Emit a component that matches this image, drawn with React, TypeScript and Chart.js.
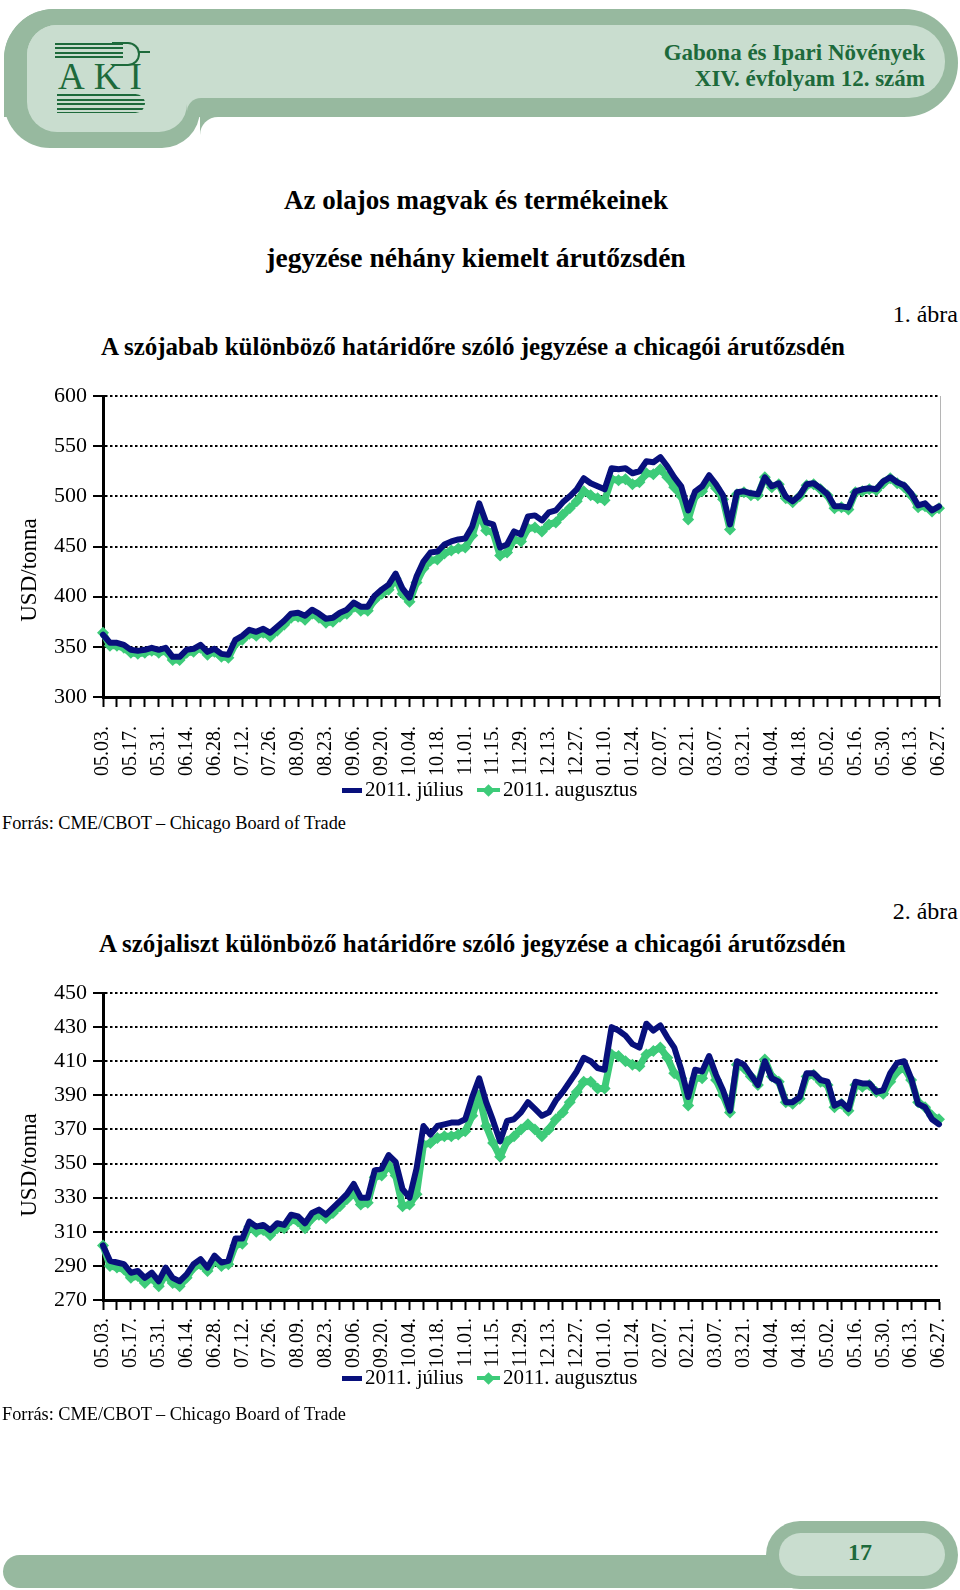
import React, { useEffect, useRef } from 'react';
import { Chart, registerables } from 'chart.js';

Chart.register(...registerables);

// ---------- DATA ----------
const tickLabels = [
  '05.03.', '05.17.', '05.31.', '06.14.', '06.28.', '07.12.', '07.26.', '08.09.', '08.23.', '09.06.',
  '09.20.', '10.04.', '10.18.', '11.01.', '11.15.', '11.29.', '12.13.', '12.27.', '01.10.', '01.24.',
  '02.07.', '02.21.', '03.07.', '03.21.', '04.04.', '04.18.', '05.02.', '05.16.', '05.30.', '06.13.',
  '06.27.',
];

const seriesNames = ['2011. július', '2011. augusztus'];

// Soybean (szójabab), USD/tonna, two readings per week
const soyJul = [
  362, 354, 354, 352, 347, 346, 347, 349, 347, 349,
  340, 340, 347, 348, 352, 345, 348, 343, 342, 357,
  361, 367, 365, 368, 364, 370, 376, 383, 384, 381,
  387, 383, 378, 379, 384, 387, 394, 390, 390, 401,
  407, 412, 423, 408, 399, 420, 435, 444, 445, 452,
  455, 457, 458, 470, 493, 474, 472, 449, 452, 465,
  462, 480, 481, 476, 484, 486, 494, 500, 507, 518,
  513, 510, 507, 528, 527, 528, 523, 525, 535, 534,
  539, 530, 519, 510, 486, 505, 510, 521, 512, 501,
  472, 504, 505, 503, 502, 519, 510, 513, 500, 495,
  501, 512, 513, 508, 502, 490, 490, 489, 505, 507,
  508, 507, 515, 519, 514, 511, 503, 491, 493, 486,
  490,
];
const soyAug = [
  364, 351, 351, 349, 344, 343, 344, 346, 344, 346,
  337, 337, 344, 345, 349, 342, 345, 340, 339, 353,
  357, 363, 361, 364, 360, 366, 372, 379, 380, 377,
  383, 379, 374, 375, 380, 383, 390, 386, 386, 397,
  403, 407, 418, 403, 395, 414, 428, 436, 437, 443,
  446, 448, 449, 461, 483, 466, 464, 441, 444, 457,
  455, 468, 469, 465, 472, 474, 482, 488, 495, 505,
  501, 498, 496, 517, 516, 517, 512, 514, 523, 522,
  527, 519, 509, 500, 477, 500, 505, 516, 508, 497,
  467, 502, 504, 501, 501, 519, 509, 512, 498, 494,
  500, 511, 512, 507, 501, 488, 489, 487, 504, 505,
  507, 506, 513, 518, 513, 509, 501, 489, 490, 485,
  488,
];

// Soybean meal (szójaliszt), USD/tonna
const mealJul = [
  302, 293, 292, 291, 286, 287, 283, 286, 281, 289,
  283, 281, 285, 291, 294, 289, 296, 292, 293, 306,
  306, 316, 313, 314, 311, 315, 314, 320, 319, 315,
  321, 323, 320, 324, 328, 332, 338, 330, 330, 346,
  347, 355, 351, 335, 330, 347, 372, 367, 372, 373,
  374, 374, 376, 389, 400, 386, 375, 363, 375, 376,
  380, 386, 382, 378, 380, 387, 392, 398, 404, 412,
  410, 406, 405, 430, 428, 425, 420, 418, 432, 428,
  431, 424, 418, 405, 389, 405, 404, 413, 402, 393,
  381, 410, 408, 402, 396, 410, 400, 398, 386, 386,
  389, 403, 403, 399, 398, 384, 386, 382, 398, 397,
  397, 392, 393, 403, 409, 410, 400, 385, 383, 376,
  373,
];
const mealAug = [
  302, 290, 289, 288, 283, 284, 280, 283, 278, 285,
  280, 278, 283, 289, 291, 287, 293, 290, 291, 302,
  303, 313, 310, 311, 308, 312, 312, 317, 316, 312,
  318, 320, 318, 321, 325, 329, 333, 326, 327, 342,
  343, 349, 343, 325, 326, 332, 361, 362, 365, 366,
  366, 367, 369, 378, 390, 372, 362, 354, 363, 366,
  370, 373, 370, 366, 370, 376, 380, 386, 392, 398,
  398, 394, 394, 414, 413, 410, 408, 407, 414, 416,
  418, 412, 403, 400, 384, 400, 400, 410, 399, 390,
  380, 408, 406, 401, 396, 411, 401, 398, 386, 385,
  388, 401, 402, 398, 396, 383, 385, 381, 396, 395,
  396, 392, 391, 398, 404, 406, 399, 386, 383, 378,
  376,
];

// ---------- STYLE ----------
const NAVY = '#08107c';
const GREEN = '#3dcb79';
const SERIF = '"Liberation Serif", "Times New Roman", serif';
const DARKGREEN = '#1d6a3b';
const OUT = '#97b99f';
const INN = '#c9ddcf';

const pointLabels = (n: number) =>
  Array.from({ length: n }, (_, k) => (k % 4 === 0 ? tickLabels[k / 4] ?? '' : ''));

type ChartProps = {
  top: number;
  height: number;
  plotTop: number;
  plotBottom: number;
  plotRight: number;
  jul: number[];
  aug: number[];
  yMin: number;
  yMax: number;
  step: number;
  labelPad: number;
  rightBorder: boolean;
};

function LineChart(p: ChartProps) {
  const ref = useRef<HTMLCanvasElement | null>(null);
  useEffect(() => {
    if (!ref.current) return;
    const rightBorderPlugin = {
      id: 'rightBorder',
      beforeDatasetsDraw(chart: any) {
        if (!p.rightBorder) return;
        const { ctx, chartArea } = chart;
        ctx.save();
        ctx.strokeStyle = '#b5b5b5';
        ctx.lineWidth = 1;
        ctx.beginPath();
        ctx.moveTo(chartArea.right + 1.5, chartArea.top);
        ctx.lineTo(chartArea.right + 1.5, chartArea.bottom);
        ctx.stroke();
        ctx.restore();
      },
    };
    const chart = new Chart(ref.current, {
      type: 'line',
      data: {
        labels: pointLabels(p.jul.length),
        datasets: [
          {
            label: seriesNames[0],
            data: p.jul,
            borderColor: NAVY,
            backgroundColor: NAVY,
            borderWidth: 6,
            pointRadius: 0,
            tension: 0,
            borderJoinStyle: 'round',
            borderCapStyle: 'round',
            clip: false,
          },
          {
            label: seriesNames[1],
            data: p.aug,
            borderColor: GREEN,
            backgroundColor: GREEN,
            borderWidth: 7,
            pointStyle: 'rectRot',
            pointRadius: 6,
            pointBorderWidth: 0,
            pointBackgroundColor: GREEN,
            tension: 0,
            borderJoinStyle: 'round',
            clip: false,
          },
        ],
      },
      options: {
        animation: false,
        responsive: false,
        maintainAspectRatio: false,
        devicePixelRatio: 1,
        layout: { padding: { top: p.plotTop - p.top, right: 960 - p.plotRight, left: 0, bottom: 0 } },
        plugins: { legend: { display: false }, tooltip: { enabled: false } },
        scales: {
          x: {
            type: 'category',
            offset: false,
            grid: {
              display: true,
              drawOnChartArea: false,
              drawTicks: true,
              tickLength: 10,
              tickWidth: 2,
              tickColor: (c: any) => (c.index % 2 === 0 ? '#000' : 'rgba(0,0,0,0)'),
            },
            border: { display: true, color: '#000', width: 3 },
            ticks: {
              autoSkip: false,
              maxRotation: 90,
              minRotation: 90,
              padding: p.labelPad,
              color: '#000',
              font: { family: SERIF, size: 20 },
            },
            afterFit: (s: any) => {
              s.height = p.height - (p.plotBottom - p.top);
              s.paddingLeft = 0;
              s.paddingRight = 0;
            },
          },
          y: {
            min: p.yMin,
            max: p.yMax,
            ticks: {
              stepSize: p.step,
              padding: 6,
              color: '#000',
              font: { family: SERIF, size: 22 },
            },
            grid: {
              color: '#000',
              lineWidth: 2,
              tickLength: 10,
              tickWidth: 2,
              tickColor: '#000',
            },
            border: { display: true, color: '#000', width: 3, dash: [2.5, 2.5] },
            afterFit: (s: any) => {
              s.width = 103;
              s.paddingTop = 0;
              s.paddingBottom = 0;
            },
          },
        },
      },
      plugins: [rightBorderPlugin],
    } as any);
    return () => chart.destroy();
  }, []);
  return (
    <canvas
      ref={ref}
      width={960}
      height={p.height}
      style={{ position: 'absolute', left: 0, top: p.top, width: 960, height: p.height }}
    />
  );
}

type TProps = {
  x: number;
  y: number;
  size: number;
  bold?: boolean;
  align?: 'left' | 'center' | 'right';
  color?: string;
  children: React.ReactNode;
};

function T({ x, y, size, bold, align = 'left', color = '#000', children }: TProps) {
  const style: React.CSSProperties = {
    position: 'absolute',
    top: y - size * 0.63,
    fontSize: size,
    lineHeight: `${size * 1.2}px`,
    fontFamily: SERIF,
    fontWeight: bold ? 'bold' : 'normal',
    color,
    whiteSpace: 'nowrap',
    textAlign: align,
  };
  if (align === 'left') style.left = x;
  if (align === 'right') style.right = 960 - x;
  if (align === 'center') {
    style.left = x - 500;
    style.width = 1000;
  }
  return <div style={style}>{children}</div>;
}

function YTitle({ cx, cy }: { cx: number; cy: number }) {
  return (
    <div
      style={{
        position: 'absolute',
        left: cx - 100,
        top: cy - 14,
        width: 200,
        height: 28,
        lineHeight: '28px',
        textAlign: 'center',
        fontFamily: SERIF,
        fontSize: 23,
        color: '#000',
        transform: 'rotate(-90deg)',
        whiteSpace: 'nowrap',
      }}
    >
      USD/tonna
    </div>
  );
}

function Legend({ y }: { y: number }) {
  return (
    <>
      <div style={{ position: 'absolute', left: 342, top: y - 2.5, width: 20, height: 5, background: NAVY }} />
      <T x={365} y={y} size={21}>{seriesNames[0]}</T>
      <div style={{ position: 'absolute', left: 477, top: y - 2, width: 23, height: 4, background: GREEN }} />
      <div
        style={{
          position: 'absolute',
          left: 484,
          top: y - 4.5,
          width: 9,
          height: 9,
          background: GREEN,
          transform: 'rotate(45deg)',
        }}
      />
      <T x={503} y={y} size={21}>{seriesNames[1]}</T>
    </>
  );
}

const abs = (l: number, t: number, w: number, h: number, bg: string, r: string): React.CSSProperties => ({
  position: 'absolute',
  left: l,
  top: t,
  width: w,
  height: h,
  background: bg,
  borderRadius: r,
});

function Header() {
  return (
    <>
      {/* outer shape */}
      <div style={abs(4, 9, 954, 108, OUT, '50px 54px 54px 0')} />
      <div style={abs(4, 9, 196, 139, OUT, '50px 0 38px 46px')} />
      <div style={abs(200, 117, 18, 18, OUT, '0')} />
      <div style={abs(200, 117, 18, 18, '#fff', '18px 0 0 0')} />
      {/* inner shape */}
      <div style={abs(27, 25, 918, 73, INN, '30px 36px 36px 0')} />
      <div style={abs(27, 25, 160, 107, INN, '30px 0 28px 30px')} />
      <div style={abs(187, 98, 14, 14, INN, '0')} />
      <div style={abs(187, 98, 14, 14, OUT, '14px 0 0 0')} />
      {/* logo */}
      <div
        style={{
          ...abs(55, 43, 68, 18, 'transparent', '0'),
          backgroundImage: `repeating-linear-gradient(to bottom, ${DARKGREEN} 0px, ${DARKGREEN} 2px, transparent 2px, transparent 4.5px)`,
        }}
      />
      <div style={{ ...abs(112, 42, 26, 20, 'transparent', '0 12px 12px 0'), border: `2px solid ${DARKGREEN}`, borderLeft: 'none' }} />
      <div style={abs(138, 51, 12, 2, DARKGREEN, '0')} />
      <div
        style={{
          position: 'absolute',
          left: 58,
          top: 57,
          fontFamily: SERIF,
          fontSize: 37,
          lineHeight: '40px',
          letterSpacing: 9,
          color: DARKGREEN,
        }}
      >
        AKI
      </div>
      <div
        style={{
          ...abs(57, 94, 88, 19, 'transparent', '0 12px 12px 0'),
          backgroundImage: `repeating-linear-gradient(to bottom, ${DARKGREEN} 0px, ${DARKGREEN} 2px, transparent 2px, transparent 4.5px)`,
        }}
      />
      <T x={925} y={53} size={23} bold align="right" color={DARKGREEN}>Gabona és Ipari Növények</T>
      <T x={925} y={79} size={23} bold align="right" color={DARKGREEN}>XIV. évfolyam 12. szám</T>
    </>
  );
}

function Footer() {
  return (
    <>
      <div style={abs(3, 1555, 790, 33, OUT, '17px 0 0 17px')} />
      <div style={abs(766, 1521, 192, 68, OUT, '34px 34px 34px 34px')} />
      <div style={abs(779, 1533, 166, 43, INN, '22px')} />
      <T x={860} y={1553} size={24} bold align="center" color={DARKGREEN}>17</T>
    </>
  );
}

export default function App() {
  useEffect(() => {
    document.body.style.margin = '0';
    document.documentElement.style.overflow = 'hidden';
  }, []);
  return (
    <div style={{ position: 'absolute', left: 0, top: 0, width: 960, height: 1590, background: '#fff', overflow: 'hidden' }}>
      <Header />

      <T x={476} y={201} size={27} bold align="center">Az olajos magvak és termékeinek</T>
      <T x={476} y={258} size={27.5} bold align="center">jegyzése néhány kiemelt árutőzsdén</T>

      {/* Chart 1 */}
      <T x={958} y={315} size={24} align="right">1. ábra</T>
      <T x={101} y={348} size={25} bold>A szójabab különböző határidőre szóló jegyzése a chicagói árutőzsdén</T>
      <LineChart
        top={370}
        height={440}
        plotTop={396}
        plotBottom={697}
        plotRight={939}
        jul={soyJul}
        aug={soyAug}
        yMin={300}
        yMax={600}
        step={50}
        labelPad={19}
        rightBorder={true}
      />
      <YTitle cx={29} cy={570} />
      <Legend y={790} />
      <T x={2} y={825} size={18.3}>Forrás: CME/CBOT – Chicago Board of Trade</T>

      {/* Chart 2 */}
      <T x={958} y={912} size={24} align="right">2. ábra</T>
      <T x={99} y={945} size={25} bold>A szójaliszt különböző határidőre szóló jegyzése a chicagói árutőzsdén</T>
      <LineChart
        top={965}
        height={440}
        plotTop={993}
        plotBottom={1300}
        plotRight={939}
        jul={mealJul}
        aug={mealAug}
        yMin={270}
        yMax={450}
        step={20}
        labelPad={8}
        rightBorder={false}
      />
      <YTitle cx={29} cy={1165} />
      <Legend y={1378} />
      <T x={2} y={1416} size={18.3}>Forrás: CME/CBOT – Chicago Board of Trade</T>

      <Footer />
    </div>
  );
}
